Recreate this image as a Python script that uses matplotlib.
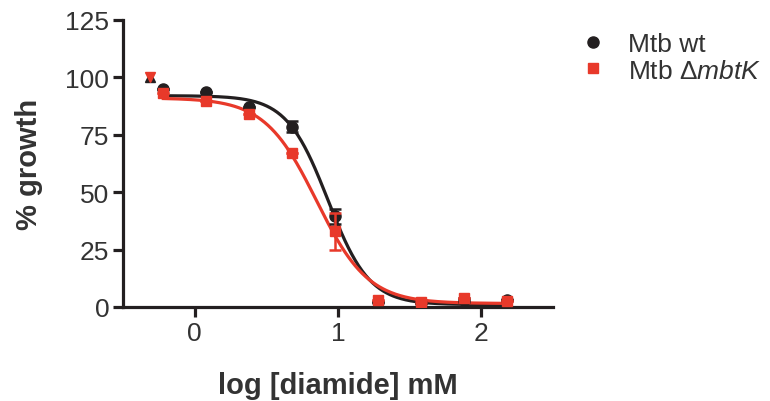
import numpy as np
import matplotlib as mpl
mpl.use('Agg')
import matplotlib.pyplot as plt

plt.rcParams['font.family'] = ['Liberation Sans', 'DejaVu Sans']
plt.rcParams['mathtext.fontset'] = 'custom'
plt.rcParams['mathtext.rm'] = 'Liberation Sans'
plt.rcParams['mathtext.it'] = 'Liberation Sans:italic'

# log [diamide] mM
log_conc = [-0.22, 0.08, 0.38, 0.68, 0.98, 1.28, 1.58, 1.88, 2.18]

wt_growth = [95, 93.5, 87, 78.5, 39.5, 2, 1.5, 3, 3]
wt_err = [0, 0, 0, 2.5, 3.3, 0, 0, 0.8, 0]

mut_growth = [93, 89.5, 84, 67, 33, 3, 2.2, 3.8, 2.5]
mut_err = [0, 0, 0, 0, 8, 0, 0.6, 0, 0]

# off-range points drawn as triangles
tri_x = [-0.31]
tri_y = [100]

# fitted 4PL curves: top, bottom, logIC50, hill
wt_fit = [92, 1, 0.93, 3.0]
mut_fit = [91, 1.5, 0.85, 2.4]

black = '#231f20'
red = '#e8392a'


def logistic(x, top, bottom, c, h):
    return bottom + (top - bottom) / (1 + 10 ** ((x - c) * h))


fig = plt.figure(figsize=(7.7, 4.02), dpi=100)
ax = fig.add_axes([0.16, 0.234, 0.558, 0.714])

xs = np.linspace(log_conc[0], log_conc[-1], 300)
ax.plot(xs, logistic(xs, *wt_fit), color=black, lw=2.3, zorder=2)
ax.plot(xs, logistic(xs, *mut_fit), color=red, lw=2.3, zorder=3)

ax.errorbar(log_conc, wt_growth, yerr=wt_err, fmt='o', color=black, ms=8,
            capsize=4, elinewidth=1.8, capthick=1.8, label='Mtb wt', zorder=4)
ax.errorbar(log_conc, mut_growth, yerr=mut_err, fmt='s', color=red, ms=7.5,
            capsize=4, elinewidth=1.8, capthick=1.8,
            label='Mtb Δ$\\mathit{mbtK}$', zorder=5)
ax.plot(tri_x, tri_y, '^', color=black, ms=7, zorder=4)
ax.plot(tri_x, tri_y, 'v', color=red, ms=7, zorder=5)

ax.set_xlim(-0.5, 2.5)
ax.set_ylim(0, 125)
ax.set_xticks([0, 1, 2])
ax.set_yticks([0, 25, 50, 75, 100, 125])

for s in ['top', 'right']:
    ax.spines[s].set_visible(False)
for s in ['left', 'bottom']:
    ax.spines[s].set_linewidth(2.3)
    ax.spines[s].set_color(black)
ax.tick_params(width=2.3, length=7, color=black, labelsize=19,
               labelcolor='#333333', pad=3)

ax.set_xlabel('log [diamide] mM', fontsize=21, fontweight='bold',
              color='#333333', labelpad=19)
ax.set_ylabel('% growth', fontsize=21, fontweight='bold',
              color='#333333', labelpad=16)

handles, labels = ax.get_legend_handles_labels()
handles = [h[0] for h in handles]
fig.legend(handles, labels, loc='upper left',
           bbox_to_anchor=(577 / 770, 1 - 33 / 402),
           borderaxespad=0, borderpad=0,
           frameon=False, fontsize=19, handletextpad=0.75, labelspacing=0.1,
           handlelength=1.2, labelcolor='#333333')

fig.savefig('out.png', dpi=100)
